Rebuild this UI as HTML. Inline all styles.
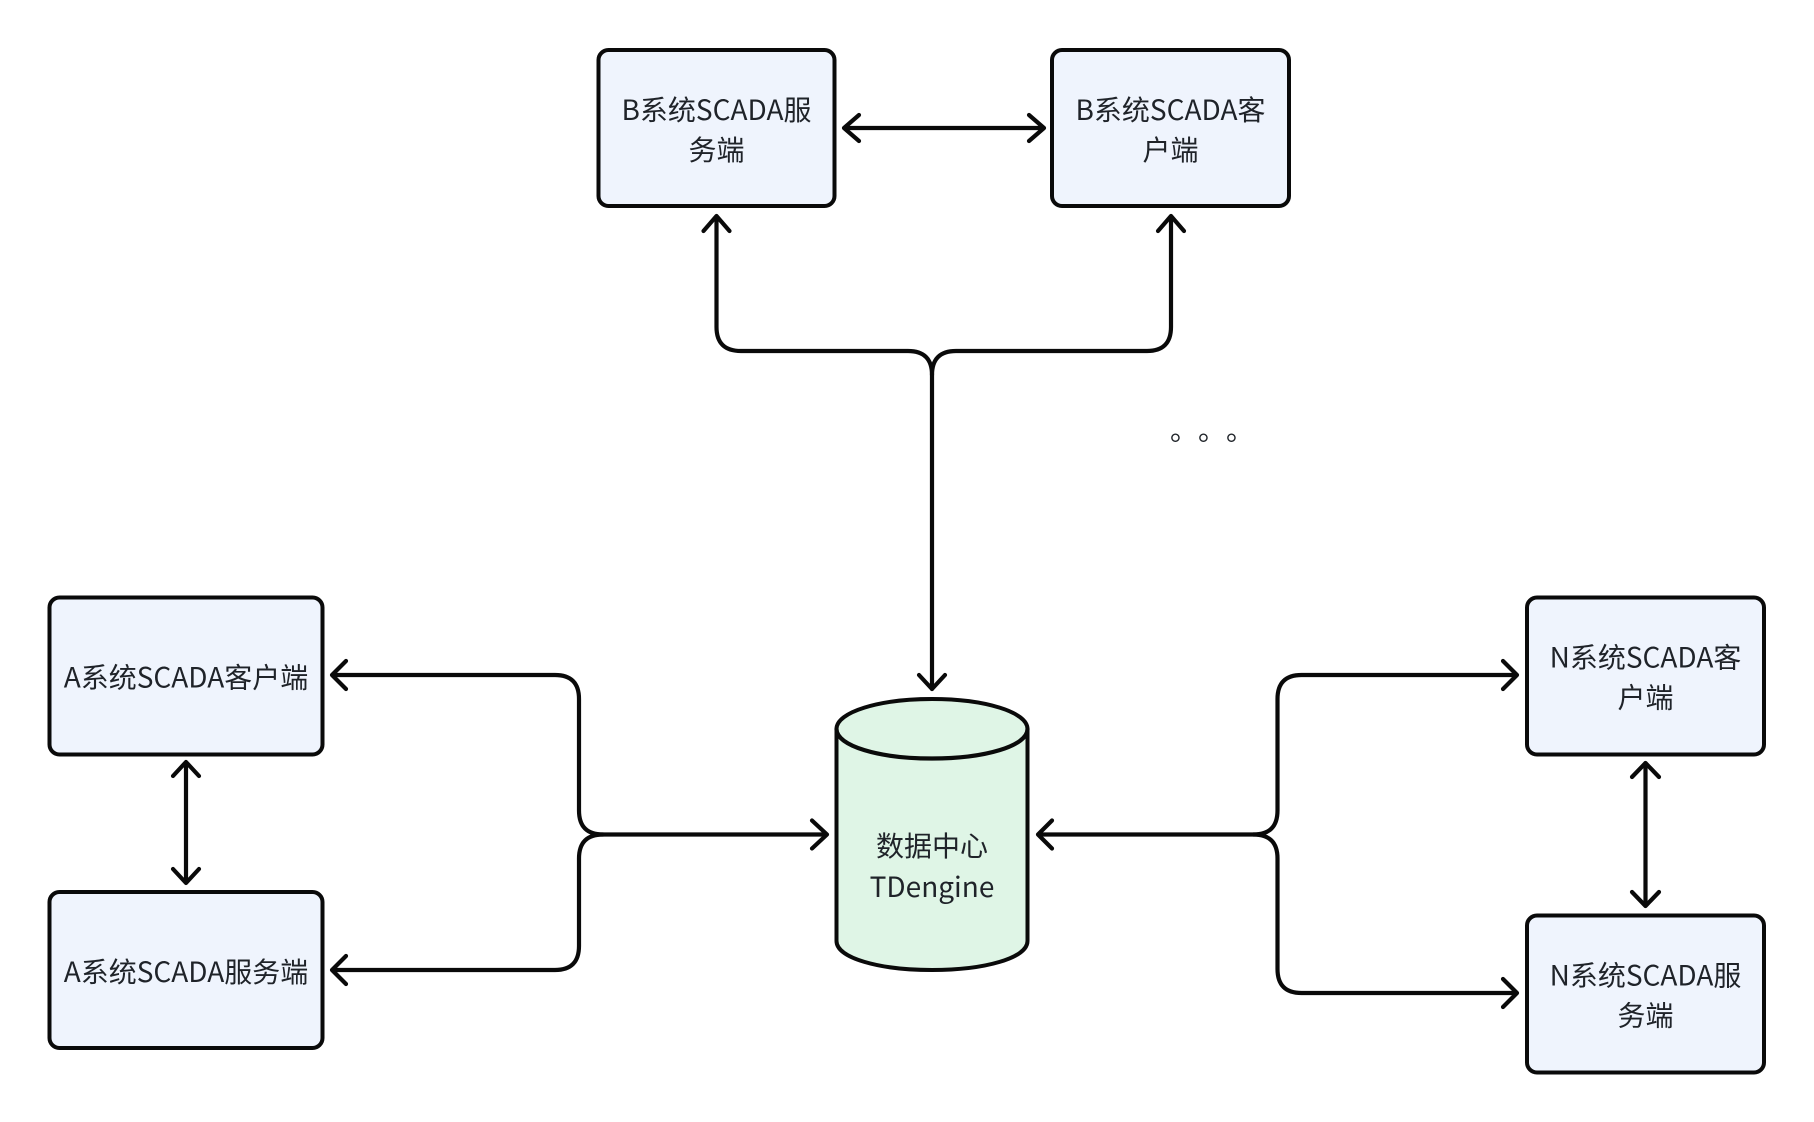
<!DOCTYPE html>
<html><head><meta charset="utf-8"><style>
html,body{margin:0;padding:0;background:#fff;width:1814px;height:1122px;overflow:hidden}
svg{display:block}
text{font-family:"Noto Sans CJK SC","Liberation Sans",sans-serif;font-size:28px;fill:#1f2329;text-anchor:middle}
.b{fill:#eff4fd;stroke:#0a0a0a;stroke-width:4}
.l{fill:none;stroke:#0a0a0a;stroke-width:4.2;stroke-linecap:round;stroke-linejoin:round}
</style></head><body>
<svg width="1814" height="1122" viewBox="0 0 1814 1122" xmlns="http://www.w3.org/2000/svg">
<rect class="b" x="598.5" y="50" width="236" height="156" rx="10"/>
<rect class="b" x="1052" y="50" width="237" height="156" rx="10"/>
<rect class="b" x="49.5" y="597.5" width="273" height="157" rx="10"/>
<rect class="b" x="49.5" y="892" width="273" height="156" rx="10"/>
<rect class="b" x="1527" y="597.5" width="237" height="157" rx="10"/>
<rect class="b" x="1527" y="915.5" width="237" height="157" rx="10"/>
<path d="M836.5 729 C836.5 712 879 699 932 699 C985 699 1027.5 712 1027.5 729 V941 C1027.5 958 985 970 932 970 C879 970 836.5 958 836.5 941 Z" fill="#dff5e6" stroke="#0a0a0a" stroke-width="4"/>
<path class="l" d="M836.5 729 C836.5 746 879 758.5 932 758.5 C985 758.5 1027.5 746 1027.5 729"/>

<path class="l" d="M932 689 V375 Q932 351 908 351 H741 Q716.5 351 716.5 327 V217"/>
<path class="l" d="M932 375 Q932 351 956 351 H1147 Q1171 351 1171 327 V217"/>
<path class="l" d="M703.5 231 L716.5 216 L729.5 231 M1158 231 L1171 216 L1184 231 M919 675 L932 689 L945 675"/>
<path class="l" d="M845 128 H1043 M859 115 L844 128 L859 141 M1029 115 L1044 128 L1029 141"/>

<path class="l" d="M333 675 H555 Q579 675 579 699 V810.5 Q579 834.5 603 834.5 H826"/>
<path class="l" d="M333 970 H555 Q579 970 579 946 V858.5 Q579 834.5 603 834.5"/>
<path class="l" d="M346 661 L332 675 L346 689 M346 956 L332 970 L346 984 M812 820.5 L827 834.5 L812 848.5"/>
<path class="l" d="M186 763 V882 M173 776 L186 762 L199 776 M173 869 L186 883 L199 869"/>

<path class="l" d="M1039 834.5 H1253.5 Q1277.5 834.5 1277.5 810.5 V699 Q1277.5 675 1301.5 675 H1516"/>
<path class="l" d="M1253.5 834.5 Q1277.5 834.5 1277.5 858.5 V969 Q1277.5 993 1301.5 993 H1516"/>
<path class="l" d="M1052 820.5 L1038 834.5 L1052 848.5 M1503 661 L1517 675 L1503 689 M1503 979 L1517 993 L1503 1007"/>
<path class="l" d="M1645.5 764 V905 M1632 777 L1645.5 763 L1659 777 M1632 892 L1645.5 906 L1659 892"/>

<text x="716.5" y="120">B系统SCADA服</text><text x="716.5" y="160">务端</text>
<text x="1170.5" y="120">B系统SCADA客</text><text x="1170.5" y="160">户端</text>
<text x="186" y="687.5">A系统SCADA客户端</text>
<text x="186" y="982">A系统SCADA服务端</text>
<text x="1645.5" y="667.5">N系统SCADA客</text><text x="1645.5" y="707.5">户端</text>
<text x="1645.5" y="985.5">N系统SCADA服</text><text x="1645.5" y="1025.5">务端</text>
<text x="932" y="856">数据中心</text><text x="932" y="897">TDengine</text>
<text x="1184" y="440">。</text><text x="1212" y="440">。</text><text x="1240" y="440">。</text>
</svg>
</body></html>
